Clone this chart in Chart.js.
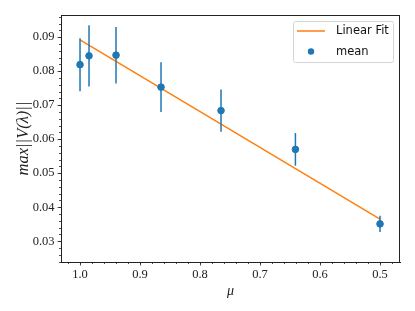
<!DOCTYPE html>
<html>
<head>
<meta charset="utf-8">
<script src="https://cdn.jsdelivr.net/npm/chart.js@4"></script>
<style>
  html, body { margin: 0; padding: 0; background: #fff; }
  #wrap { width: 415px; height: 311px; }
</style>
</head>
<body>
<div id="wrap"><canvas id="chart" width="415" height="311"></canvas></div>
<script>
const muValues = [1.0, 0.985, 0.94, 0.865, 0.765, 0.641, 0.5];
const meanValues = [0.0819, 0.0845, 0.0847, 0.0753, 0.0684, 0.0570, 0.0351];
const errValues = [0.0078, 0.0090, 0.0083, 0.0073, 0.0062, 0.0048, 0.0024];

// linear fit end points
const fitX = [1.0, 0.5];
const fitY = [0.0892, 0.0365];

// tick labels
const xTicks = [1.0, 0.9, 0.8, 0.7, 0.6, 0.5];
const yTicks = [0.03, 0.04, 0.05, 0.06, 0.07, 0.08, 0.09];

const blue = "#1f77b4";
const orange = "#ff7f0e";
const serif = "'Liberation Serif', 'DejaVu Serif', serif";
const sans = "'DejaVu Sans', sans-serif";

// one small line dataset per error bar
const errorBars = muValues.map((mu, i) => ({
    type: "line",
    label: "err" + i,
    data: [
        { x: mu, y: meanValues[i] - errValues[i] },
        { x: mu, y: meanValues[i] + errValues[i] }
    ],
    borderColor: blue,
    borderWidth: 1.5,
    pointRadius: 0,
    order: 2
}));

// minor ticks, spines and legend box like matplotlib
const decorations = {
    id: "decorations",
    afterDraw(chart) {
        const ctx = chart.ctx;
        const area = chart.chartArea;
        const xs = chart.scales.x;
        const ys = chart.scales.y;
        ctx.save();
        ctx.strokeStyle = "#222";
        ctx.lineWidth = 0.8;

        // minor ticks
        ctx.beginPath();
        for (let v = 0.48; v <= 1.03; v += 0.02) {
            const px = Math.round(xs.getPixelForValue(v)) + 0.5;
            ctx.moveTo(px, area.bottom);
            ctx.lineTo(px, area.bottom + 2);
        }
        for (let v = 0.024; v <= 0.0965; v += 0.002) {
            const py = Math.round(ys.getPixelForValue(v)) + 0.5;
            ctx.moveTo(area.left, py);
            ctx.lineTo(area.left - 2, py);
        }
        ctx.stroke();

        // frame
        ctx.lineWidth = 1;
        ctx.strokeRect(Math.round(area.left) + 0.5, Math.round(area.top) + 0.5,
            Math.round(area.right - area.left) - 1, Math.round(area.bottom - area.top));

        // legend
        const bx = 293, by = 21, bw = 100, bh = 41;
        ctx.beginPath();
        ctx.roundRect(bx + 0.5, by + 0.5, bw, bh, 2);
        ctx.fillStyle = "rgba(255,255,255,0.8)";
        ctx.fill();
        ctx.strokeStyle = "#d5d5d5";
        ctx.lineWidth = 1;
        ctx.stroke();

        ctx.beginPath();
        ctx.moveTo(297, 31);
        ctx.lineTo(325, 31);
        ctx.strokeStyle = orange;
        ctx.lineWidth = 1.5;
        ctx.stroke();

        ctx.beginPath();
        ctx.arc(311, 51.5, 3.2, 0, Math.PI * 2);
        ctx.fillStyle = blue;
        ctx.fill();

        ctx.fillStyle = "#111";
        ctx.font = "11.5px " + sans;
        ctx.textBaseline = "middle";
        ctx.fillText("Linear Fit", 336, 31);
        ctx.fillText("mean", 336, 52);
        ctx.restore();
    }
};

new Chart(document.getElementById("chart"), {
    type: "scatter",
    data: {
        datasets: [
            {
                type: "line",
                label: "Linear Fit",
                data: fitX.map((x, i) => ({ x: x, y: fitY[i] })),
                borderColor: orange,
                borderWidth: 1.5,
                pointRadius: 0,
                order: 3
            },
            ...errorBars,
            {
                label: "mean",
                data: muValues.map((x, i) => ({ x: x, y: meanValues[i] })),
                backgroundColor: blue,
                borderColor: blue,
                pointRadius: 3.3,
                order: 1
            }
        ]
    },
    options: {
        responsive: false,
        animation: false,
        layout: { padding: { top: 15, right: 15, left: 0, bottom: 0 } },
        plugins: {
            legend: { display: false },
            tooltip: { enabled: false }
        },
        scales: {
            x: {
                type: "linear",
                reverse: true,
                min: 0.4667,
                max: 1.0317,
                afterBuildTicks: s => { s.ticks = xTicks.map(v => ({ value: v })); },
                afterFit: s => { s.height = 49; },
                grid: { display: true, drawOnChartArea: false, tickLength: 3.5, color: "#222", tickWidth: 0.8 },
                border: { display: true, color: "#222", width: 1 },
                ticks: {
                    color: "#222",
                    padding: 2,
                    maxRotation: 0,
                    font: { family: serif, size: 12.5 },
                    callback: v => v.toFixed(1)
                },
                title: {
                    display: true,
                    text: "μ",
                    color: "#222",
                    font: { family: serif, size: 14, style: "italic" },
                    padding: { top: 0, bottom: 11 }
                }
            },
            y: {
                type: "linear",
                min: 0.0239,
                max: 0.0965,
                afterBuildTicks: s => { s.ticks = yTicks.map(v => ({ value: v })); },
                afterFit: s => { s.width = 61; },
                grid: { display: true, drawOnChartArea: false, tickLength: 3.5, color: "#222", tickWidth: 0.8 },
                border: { display: true, color: "#222", width: 1 },
                ticks: {
                    color: "#222",
                    padding: 3,
                    font: { family: serif, size: 12.5 },
                    callback: v => v.toFixed(2)
                },
                title: {
                    display: true,
                    text: "max||V(λ)||",
                    color: "#222",
                    font: { family: serif, size: 16.5, style: "italic" },
                    padding: { top: 14, bottom: 0 }
                }
            }
        }
    },
    plugins: [decorations]
});
</script>
</body>
</html>
